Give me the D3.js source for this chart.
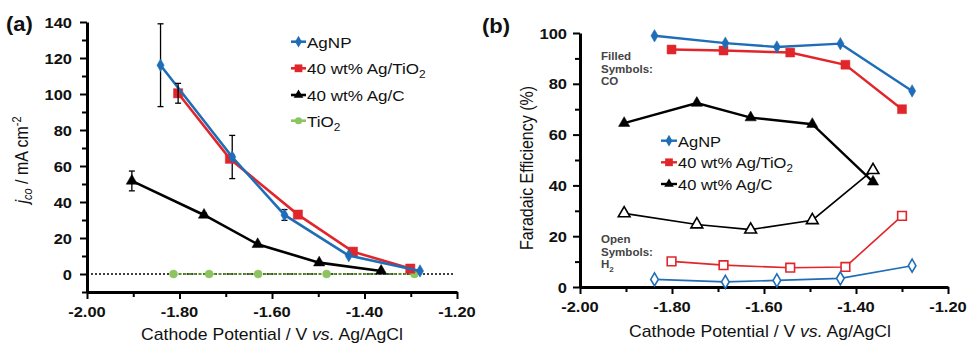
<!DOCTYPE html>
<html><head><meta charset="utf-8">
<script src="https://cdn.jsdelivr.net/npm/d3@7"></script>
<style>body{margin:0;background:#fff}svg{display:block}text{font-family:"Liberation Sans",Arial,sans-serif}</style>
</head><body><svg id="c" width="967" height="345"></svg>
<script>
// ---------- DATA ----------
const xTicks = [-2.00, -1.80, -1.60, -1.40, -1.20];
const xMinor = [-1.90, -1.70, -1.50, -1.30];
const yTicksA = [0, 20, 40, 60, 80, 100, 120, 140];
const yMinorA = [-10, 10, 30, 50, 70, 90, 110, 130];
const yTicksB = [0, 20, 40, 60, 80, 100];
const yMinorB = [10, 30, 50, 70, 90];

// Panel (a): CO partial current density
const potAgNP_a = [-1.841, -1.686, -1.573, -1.434, -1.280];
const jAgNP = [116, 65, 32.8, 10.2, 1.7];
const errAgNP = [23, 12, 3, 0, 0];
const potAgTiO2_a = [-1.803, -1.691, -1.544, -1.425, -1.301];
const jAgTiO2 = [100.4, 64, 33, 12.4, 3];
const errAgTiO2 = [5.5, 0, 0, 0, 0];
const potAgC_a = [-1.903, -1.747, -1.631, -1.498, -1.364];
const jAgC = [51.7, 32.8, 16.5, 6.3, 1.7];
const errAgC = [5.5, 1, 0, 0, 0];
const potTiO2 = [-1.813, -1.736, -1.630, -1.482, -1.292];
const jTiO2 = [0, 0, 0, 0, 0];

// Panel (b): Faradaic efficiency
const potAgNP_b = [-1.838, -1.684, -1.572, -1.434, -1.278];
const feCO_AgNP = [98.9, 96.0, 94.5, 95.8, 77.2];
const feH2_AgNP = [3.0, 2.0, 2.6, 3.4, 8.4];
const potAgTiO2_b = [-1.801, -1.688, -1.543, -1.423, -1.300];
const feCO_AgTiO2 = [93.5, 93.1, 92.3, 87.5, 70.0];
const feH2_AgTiO2 = [10.1, 8.6, 7.6, 7.9, 28.0];
const potAgC_b = [-1.904, -1.746, -1.629, -1.495, -1.363];
const feCO_AgC = [64.5, 72.4, 66.7, 64.1, 41.4];
const feH2_AgC = [29.0, 24.6, 22.6, 26.3, 46.0];

const legendA = ["AgNP", "40 wt% Ag/TiO|2", "40 wt% Ag/C", "TiO|2"];
const legendB = ["AgNP", "40 wt% Ag/TiO|2", "40 wt% Ag/C"];

// ---------- STYLE ----------
const BLUE = "#1f6db6", RED = "#e1262b", BLACK = "#000", GREEN = "#8cc460", DGREEN = "#5a8f2e";
const SX = 1.1;
const svg = d3.select("#c");

function txt(g, x, y, str, o = {}) {
  const t = g.append("text")
    .attr("transform", `translate(${x},${y})` + (o.rot ? ` rotate(-90) scale(1,${SX})` : ` scale(${SX},1)`))
    .attr("font-size", o.size || 15)
    .attr("font-weight", o.bold ? "bold" : "normal")
    .attr("fill", o.fill || "#111")
    .attr("text-anchor", o.anchor || "start");
  const parts = str.split("|");
  t.append("tspan").text(parts[0]);
  if (parts[1] !== undefined) {
    t.append("tspan").attr("font-size", (o.size || 15) * 0.7).attr("dy", 4).text(parts[1]);
  }
  return t;
}

const fmtX = d => d.toFixed(2);

function drawAxes(x, y, yTicks, yMinor, xLabY, yLabX) {
  const g = svg.append("g");
  const y0 = y.range()[0];
  const x0 = x.range()[0];
  g.append("g").attr("transform", `translate(0,${y0})`)
    .call(d3.axisBottom(x).tickValues(xTicks).tickSize(7).tickSizeOuter(0).tickFormat(""));
  g.append("g").attr("transform", `translate(0,${y0})`)
    .call(d3.axisBottom(x).tickValues(xMinor).tickSize(5).tickSizeOuter(0).tickFormat(""))
    .select(".domain").remove();
  g.append("g").attr("transform", `translate(${x0},0)`)
    .call(d3.axisLeft(y).tickValues(yTicks).tickSize(7).tickSizeOuter(0).tickFormat(""));
  g.append("g").attr("transform", `translate(${x0},0)`)
    .call(d3.axisLeft(y).tickValues(yMinor).tickSize(5).tickSizeOuter(0).tickFormat(""))
    .select(".domain").remove();
  g.selectAll(".domain").attr("stroke", "#000").attr("stroke-width", 3);
  g.selectAll(".tick line").attr("stroke", "#000").attr("stroke-width", 2);
  xTicks.forEach(v => txt(g, x(v), xLabY, fmtX(v), {bold: true, anchor: "middle", size: 15}));
  yTicks.forEach(v => txt(g, yLabX, y(v) + 5.5, String(v), {bold: true, anchor: "end", size: 15}));
}

function series(g, x, y, xs, ys, color, sym, size, open, lw, dash, fillCol) {
  const pts = xs.map((v, i) => [x(v), y(ys[i])]);
  g.append("path").attr("d", d3.line()(pts)).attr("fill", "none")
    .attr("stroke", color).attr("stroke-width", lw).attr("stroke-dasharray", dash || null);
  const mc = fillCol || color;
  g.selectAll(null).data(pts).enter().append("path")
    .attr("transform", d => `translate(${d[0]},${d[1]})`)
    .attr("d", d3.symbol().type(sym).size(size))
    .attr("fill", open ? "#fff" : mc)
    .attr("stroke", mc).attr("stroke-width", open ? 1.6 : 0.5);
}

function errbars(g, x, y, xs, ys, es) {
  xs.forEach((v, i) => {
    if (!es[i]) return;
    const cx = x(v), t = y(ys[i] + es[i]), b = y(ys[i] - es[i]);
    g.append("line").attr("x1", cx).attr("x2", cx).attr("y1", t).attr("y2", b).attr("stroke", "#000").attr("stroke-width", 1.3);
    [t, b].forEach(yy => g.append("line").attr("x1", cx - 3).attr("x2", cx + 3).attr("y1", yy).attr("y2", yy).attr("stroke", "#000").attr("stroke-width", 1.3));
  });
}

// ---------- PANEL A ----------
const xA = d3.scaleLinear().domain([-2.0, -1.2]).range([87, 457]);
const yA = d3.scaleLinear().domain([-10, 140]).range([292, 22]);
drawAxes(xA, yA, yTicksA, yMinorA, 317, 72);
const gA = svg.append("g");
gA.append("line").attr("x1", xA(-2.0)).attr("x2", xA(-1.205)).attr("y1", yA(0)).attr("y2", yA(0))
  .attr("stroke", "#000").attr("stroke-width", 1.3).attr("stroke-dasharray", "2,2");
series(gA, xA, yA, potTiO2, jTiO2, DGREEN, d3.symbolCircle, 50, false, 1.8, "3,2", GREEN);
errbars(gA, xA, yA, potAgC_a, jAgC, errAgC);
series(gA, xA, yA, potAgC_a, jAgC, BLACK, d3.symbolTriangle, 55, false, 2.6);
errbars(gA, xA, yA, potAgNP_a, jAgNP, errAgNP);
series(gA, xA, yA, potAgTiO2_a, jAgTiO2, RED, d3.symbolSquare, 85, false, 2.6);
series(gA, xA, yA, potAgNP_a, jAgNP, BLUE, d3.symbolDiamond, 45, false, 2.6);
errbars(gA, xA, yA, potAgTiO2_a, jAgTiO2, errAgTiO2);

const legColsA = [BLUE, RED, BLACK, GREEN];
const legSymA = [d3.symbolDiamond, d3.symbolSquare, d3.symbolTriangle, d3.symbolCircle];
const legYA = [41.7, 68.3, 95, 120.7];
legendA.forEach((s, i) => {
  const yy = legYA[i];
  gA.append("line").attr("x1", 291).attr("x2", 306).attr("y1", yy).attr("y2", yy).attr("stroke", legColsA[i]).attr("stroke-width", 2.6);
  gA.append("path").attr("transform", `translate(298.5,${yy})`).attr("d", d3.symbol().type(legSymA[i]).size(i === 1 ? 60 : 40)).attr("fill", legColsA[i]);
  txt(gA, 307, yy + 6, s, {size: 15.5});
});

txt(svg, 6, 31, "(a)", {bold: true, size: 20});
{
  const t = txt(svg, 272, 340, "", {size: 16, anchor: "middle"});
  t.select("tspan").text("Cathode Potential / V ");
  t.append("tspan").attr("font-style", "italic").text("vs.");
  t.append("tspan").text(" Ag/AgCl");
}
{
  const t = svg.append("text").attr("transform", `translate(28,160) rotate(-90) scale(1,${SX})`)
    .attr("font-size", 16).attr("text-anchor", "middle").attr("fill", "#111");
  t.append("tspan").attr("font-style", "italic").text("j");
  t.append("tspan").attr("font-style", "italic").attr("font-size", 11).attr("dy", 4).text("co");
  t.append("tspan").attr("dy", -4).text(" / mA cm");
  t.append("tspan").attr("font-size", 11).attr("dy", -6).text("-2");
}

// ---------- PANEL B ----------
const xB = d3.scaleLinear().domain([-2.0, -1.2]).range([580, 948]);
const yB = d3.scaleLinear().domain([0, 100]).range([287, 33]);
drawAxes(xB, yB, yTicksB, yMinorB, 312, 567);
const gB = svg.append("g");
series(gB, xB, yB, potAgC_b, feH2_AgC, BLACK, d3.symbolTriangle, 60, true, 1.6);
series(gB, xB, yB, potAgTiO2_b, feH2_AgTiO2, RED, d3.symbolSquare, 75, true, 1.6);
series(gB, xB, yB, potAgNP_b, feH2_AgNP, BLUE, d3.symbolDiamond, 50, true, 1.6);
series(gB, xB, yB, potAgC_b, feCO_AgC, BLACK, d3.symbolTriangle, 55, false, 2.4);
series(gB, xB, yB, potAgTiO2_b, feCO_AgTiO2, RED, d3.symbolSquare, 80, false, 2.4);
series(gB, xB, yB, potAgNP_b, feCO_AgNP, BLUE, d3.symbolDiamond, 45, false, 2.4);

const legYB = [140.7, 162.3, 184];
legendB.forEach((s, i) => {
  const yy = legYB[i];
  gB.append("line").attr("x1", 661).attr("x2", 677).attr("y1", yy).attr("y2", yy).attr("stroke", legColsA[i]).attr("stroke-width", 2.4);
  gB.append("path").attr("transform", `translate(669,${yy})`).attr("d", d3.symbol().type(legSymA[i]).size(i === 1 ? 60 : 40)).attr("fill", legColsA[i]);
  txt(gB, 678, yy + 6, s, {size: 15});
});

txt(svg, 482, 33, "(b)", {bold: true, size: 20});
["Filled", "Symbols:", "CO"].forEach((s, i) => txt(svg, 601, 60 + i * 12.7, s, {bold: true, size: 10.5, fill: "#444"}));
["Open", "Symbols:", "H|2"].forEach((s, i) => txt(svg, 601, 243 + i * 12.7, s, {bold: true, size: 10.5, fill: "#444"}));
{
  const t = txt(svg, 760, 337, "", {size: 16, anchor: "middle"});
  t.select("tspan").text("Cathode Potential / V ");
  t.append("tspan").attr("font-style", "italic").text("vs.");
  t.append("tspan").text(" Ag/AgCl");
}
txt(svg, 533, 168, "Faradaic Efficiency (%)", {rot: true, size: 16, anchor: "middle"});
</script></body></html>
